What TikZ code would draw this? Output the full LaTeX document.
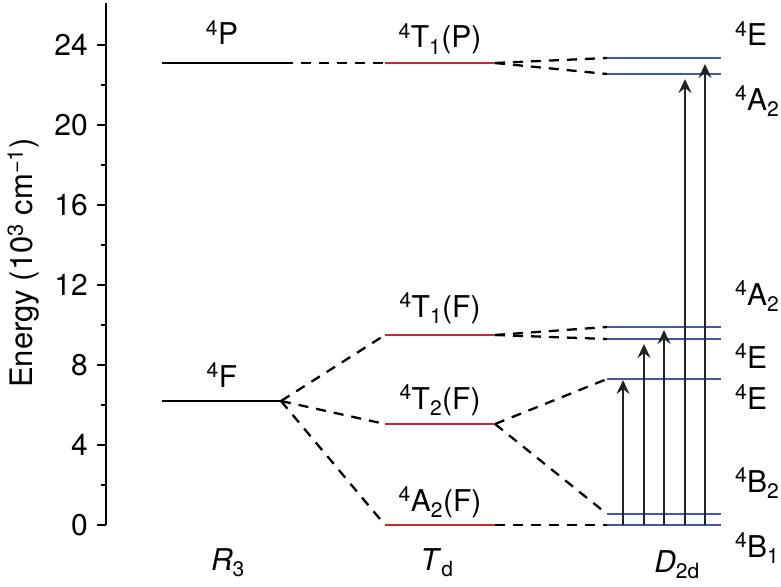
\documentclass[tikz,border=0pt]{standalone}
\usepackage{fontspec}
\setmainfont{TeX Gyre Heros}
\usetikzlibrary{arrows.meta}
\definecolor{lvred}{RGB}{200,40,52}
\definecolor{lvblue}{RGB}{68,88,170}
\definecolor{arrowgray}{RGB}{35,35,35}
\begin{document}
\begin{tikzpicture}[x=1pt,y=-1pt,
  font=\fontsize{30}{34}\selectfont,
  txt/.style={inner sep=0pt, outer sep=0pt},
  axisline/.style={line width=1.8pt, black},
  majortick/.style={line width=1.8pt, black},
  minortick/.style={line width=1.5pt, black},
  freeion/.style={line width=2.7pt, black},
  tdlevel/.style={line width=2.7pt, lvred},
  dlevel/.style={line width=2.7pt, lvblue},
  corr/.style={line width=2.3pt, black, dash pattern=on 10pt off 8pt},
  trans/.style={line width=2.3pt, arrowgray, -{Stealth[length=14pt,width=13pt,inset=5pt]}},
  ticklabel/.style={txt, anchor=east},
  lvlabel/.style={txt, anchor=base},
  rlabel/.style={txt, anchor=base west}
]
\useasboundingbox (0,0) rectangle (781,586);

% axis
\coordinate (ax-top) at (105.7,3);
\coordinate (ax-bot) at (105.7,525);
\draw[axisline] (ax-top) -- (ax-bot);
\foreach \e in {0,4,...,24}{
  \coordinate (tk\e) at (105.7,{525-20*\e});
  \draw[majortick] (tk\e) -- ++(-9,0) node[ticklabel, xshift=-9pt] (tl\e) {\e};
}
\foreach \e in {2,6,...,22}{
  \coordinate (mt\e) at (105.7,{525-20*\e});
  \draw[minortick] (mt\e) -- ++(-5,0);
}
\node[txt, rotate=90, anchor=base, font=\fontsize{31}{34}\selectfont] (ylab) at (32,263) {Energy (10\textsuperscript{3} cm\textsuperscript{−1})};

% R3 levels
\coordinate (P-l) at (162,63);  \coordinate (P-r) at (283,63);
\coordinate (F-l) at (162,401); \coordinate (F-r) at (281,401);
\draw[freeion] (P-l) -- (P-r);
\draw[freeion] (F-l) -- (F-r);
\node[lvlabel] (lP) at (222,45) {\textsuperscript{4}P};
\node[lvlabel] (lF) at (222,387) {\textsuperscript{4}F};

% Td levels
\coordinate (T1P-l) at (385,63);  \coordinate (T1P-r) at (495,63);
\coordinate (T1F-l) at (385,335); \coordinate (T1F-r) at (495,335);
\coordinate (T2F-l) at (385,424); \coordinate (T2F-r) at (495,424);
\coordinate (A2F-l) at (385,525); \coordinate (A2F-r) at (495,525);
\draw[tdlevel] (T1P-l) -- (T1P-r);
\draw[tdlevel] (T1F-l) -- (T1F-r);
\draw[tdlevel] (T2F-l) -- (T2F-r);
\draw[tdlevel] (A2F-l) -- (A2F-r);
\node[lvlabel] (lT1P) at (440,48) {\textsuperscript{4}T\textsubscript{1}(P)};
\node[lvlabel] (lT1F) at (440,317) {\textsuperscript{4}T\textsubscript{1}(F)};
\node[lvlabel] (lT2F) at (440,409) {\textsuperscript{4}T\textsubscript{2}(F)};
\node[lvlabel] (lA2F) at (440,511) {\textsuperscript{4}A\textsubscript{2}(F)};

% D2d levels
\foreach \n/\yy in {1/58,2/74,3/327,4/339,5/379,6/514,7/525}{
  \coordinate (D\n-l) at (607,\yy);
  \coordinate (D\n-r) at (721,\yy);
  \draw[dlevel] (D\n-l) -- (D\n-r);
}
\node[rlabel] (r1) at (735,46)  {\textsuperscript{4}E};
\node[rlabel] (r2) at (735,110) {\textsuperscript{4}A\textsubscript{2}};
\node[rlabel] (r3) at (735,305) {\textsuperscript{4}A\textsubscript{2}};
\node[rlabel] (r4) at (735,368) {\textsuperscript{4}E};
\node[rlabel] (r5) at (735,409) {\textsuperscript{4}E};
\node[rlabel] (r6) at (735,492) {\textsuperscript{4}B\textsubscript{2}};
\node[rlabel] (r7) at (735,557) {\textsuperscript{4}B\textsubscript{1}};

% correlation lines
\draw[corr] (P-r) -- (T1P-l);
\draw[corr] (F-r) -- (T1F-l);
\draw[corr] (F-r) -- (T2F-l);
\draw[corr] (F-r) -- (A2F-l);
\draw[corr] (T1P-r) -- (D1-l);
\draw[corr] (T1P-r) -- (D2-l);
\draw[corr] (T1F-r) -- (D3-l);
\draw[corr] (T1F-r) -- (D4-l);
\draw[corr] (T2F-r) -- (D5-l);
\draw[corr] (T2F-r) -- (D6-l);
\draw[corr] (A2F-r) -- (D7-l);

% transitions
\foreach \n/\xx/\tip in {1/623/380,2/644/344,3/664/330,4/685/79,5/705/64}{
  \coordinate (a\n-s) at (\xx,525);
  \coordinate (a\n-e) at (\xx,\tip);
  \draw[trans] (a\n-s) -- (a\n-e);
}

% group labels
\node[lvlabel] (gR) at (228,570) {\textit{R}\textsubscript{3}};
\node[lvlabel] (gT) at (437,570) {\textit{T}\textsubscript{d}};
\node[lvlabel] (gD) at (677,572) {\textit{D}\textsubscript{2d}};
\end{tikzpicture}
\end{document}
